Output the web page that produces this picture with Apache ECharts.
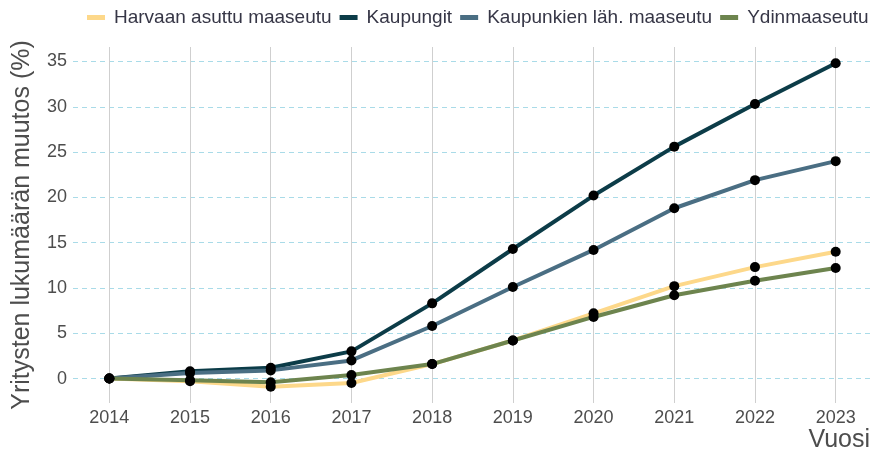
<!DOCTYPE html>
<html>
<head>
<meta charset="utf-8">
<script src="https://cdn.jsdelivr.net/npm/echarts@6/dist/echarts.min.js"></script>
<style>
  html, body { margin: 0; padding: 0; background: #fff; }
  #chart { width: 879px; height: 460px; }
</style>
</head>
<body>
<div id="chart"></div>
<script>
const years = [2014, 2015, 2016, 2017, 2018, 2019, 2020, 2021, 2022, 2023];
const harvaan = [0, -0.3, -0.9, -0.5, 1.6, 4.2, 7.2, 10.2, 12.3, 14.0];
const kaupungit = [0, 0.8, 1.2, 3.0, 8.3, 14.3, 20.2, 25.6, 30.3, 34.8];
const kaupunkienLah = [0, 0.6, 0.9, 2.0, 5.8, 10.1, 14.2, 18.8, 21.9, 24.0];
const ydin = [0, -0.2, -0.4, 0.4, 1.6, 4.2, 6.8, 9.2, 10.8, 12.2];
const yTicks = [0, 5, 10, 15, 20, 25, 30, 35];

const seriesDefs = [
  { name: "Harvaan asuttu maaseutu", data: harvaan, color: "#fdd88a" },
  { name: "Kaupungit", data: kaupungit, color: "#0c3c48" },
  { name: "Kaupunkien läh. maaseutu", data: kaupunkienLah, color: "#4a6e83" },
  { name: "Ydinmaaseutu", data: ydin, color: "#6d844e" },
];

const font = "Liberation Sans, Arial, sans-serif";
const pairs = (arr) => years.map((y, i) => [y, arr[i]]);

const series = [];
seriesDefs.forEach((s) => {
  series.push({
    name: s.name,
    type: "line",
    data: pairs(s.data),
    showSymbol: false,
    color: s.color,
    lineStyle: { width: 4, color: s.color },
    z: 2,
  });
});
seriesDefs.forEach((s) => {
  series.push({
    name: s.name + " pisteet",
    type: "scatter",
    data: pairs(s.data),
    symbolSize: 10,
    itemStyle: { color: "#000", opacity: 1 },
    z: 3,
  });
});

const chart = echarts.init(document.getElementById("chart"), null, { renderer: "canvas" });
chart.setOption({
  animation: false,
  textStyle: { fontFamily: font },
  title: {
    text: "Vuosi",
    right: 9,
    top: 428,
    padding: 0,
    textStyle: { fontSize: 25, fontWeight: "normal", color: "#4d4d4d", fontFamily: font },
  },
  legend: {
    data: seriesDefs.map((s) => s.name),
    top: 3,
    left: 82,
    icon: "rect",
    itemWidth: 18,
    itemHeight: 5,
    itemGap: 8,
    textStyle: { fontSize: 19, color: "#363646", fontFamily: font, padding: [0, 0, 0, 4] },
  },
  grid: { left: 73, right: 7, top: 47, bottom: 57, outerBoundsMode: "none" },
  xAxis: {
    type: "value",
    min: 2013.55,
    max: 2023.45,
    axisLine: { show: false },
    axisTick: { show: false, customValues: years },
    axisLabel: { customValues: years, fontSize: 18, color: "#4d4d4d", margin: 6, formatter: (v) => String(v) },
    splitLine: { show: true, lineStyle: { color: "#cfcfcf", width: 1, type: "solid" } },
  },
  yAxis: {
    type: "value",
    min: -2.7,
    max: 36.6,
    name: "Yritysten lukumäärän muutos (%)",
    nameLocation: "middle",
    nameGap: 38,
    nameTextStyle: { fontSize: 25, color: "#4d4d4d" },
    axisLine: { show: false },
    axisTick: { show: false, customValues: yTicks },
    axisLabel: { customValues: yTicks, fontSize: 18, color: "#4d4d4d", margin: 6 },
    splitLine: { show: true, lineStyle: { color: "#a9dbe8", width: 1, type: [5, 4] } },
  },
  series: series,
});
</script>
</body>
</html>
